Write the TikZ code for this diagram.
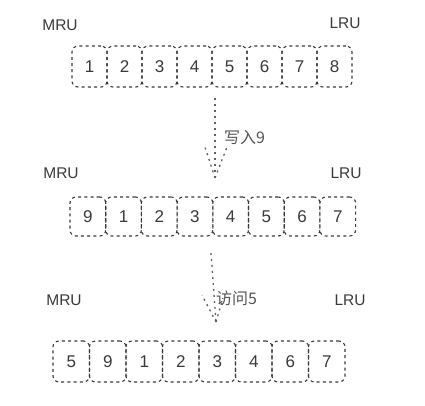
\documentclass[tikz,border=0pt]{standalone}
\usepackage{fontspec}
\setmainfont{Liberation Sans}
\newfontfamily\cjk{Noto Sans CJK SC}
\definecolor{ink}{HTML}{3A3A3A}
\definecolor{lbl}{HTML}{555555}
\begin{document}
\begin{tikzpicture}[x=1pt,y=-1pt,
  cell/.style={draw=ink,line width=1.1pt,dash pattern=on 3pt off 3.2pt,rounded corners=6pt,
    minimum height=40pt,inner sep=0pt,font=\fontsize{17}{17}\selectfont,text=ink},
  tag/.style={font=\fontsize{15.5}{15.5}\selectfont,text=ink,inner sep=0pt},
  note/.style={font=\cjk\fontsize{16}{16}\selectfont,text=lbl,inner sep=0pt,anchor=west},
  dotline/.style={draw=ink!80,line width=1.3pt,dash pattern=on 2pt off 4pt}]
\useasboundingbox (0,0) rectangle (425,405);
% row 1
\node[tag] (mru1) at (60,25) {MRU};
\node[tag] (lru1) at (345,23) {LRU};
\foreach \v [count=\i] in {1,2,3,4,5,6,7,8}
  \node[cell,minimum width=35pt,minimum height=41pt] (a\i) at ({72+35*(\i-0.5)},66.5) {\v};
% arrow 1
\coordinate (s1) at (215,98);
\coordinate (t1) at (215,178);
\draw[dotline] (s1) -- (t1);
\draw[dotline] (t1) -- ++(-10,-31);
\draw[dotline] (t1) -- ++(12,-31);
\node[note] (w9) at (224,138) {写入9};
% row 2
\node[tag] (mru2) at (61,173) {MRU};
\node[tag] (lru2) at (346,173) {LRU};
\foreach \v [count=\i] in {9,1,2,3,4,5,6,7}
  \node[cell,minimum width=35.7pt,minimum height=39pt] (b\i) at ({70+35.7*(\i-0.5)},216.5) {\v};
% arrow 2
\coordinate (s2) at (211,253);
\coordinate (t2) at (216,322);
\draw[dotline] (s2) -- (t2);
\draw[dotline] (t2) -- ++(-14,-27);
\draw[dotline] (t2) -- ++(7,-24);
\node[note] (v5) at (216,298) {访问5};
% row 3
\node[tag] (mru3) at (64,300) {MRU};
\node[tag] (lru3) at (350,300) {LRU};
\foreach \v [count=\i] in {5,9,1,2,3,4,6,7}
  \node[cell,minimum width=36.5pt,minimum height=41pt] (c\i) at ({53+36.5*(\i-0.5)},361.5) {\v};
\end{tikzpicture}
\end{document}
